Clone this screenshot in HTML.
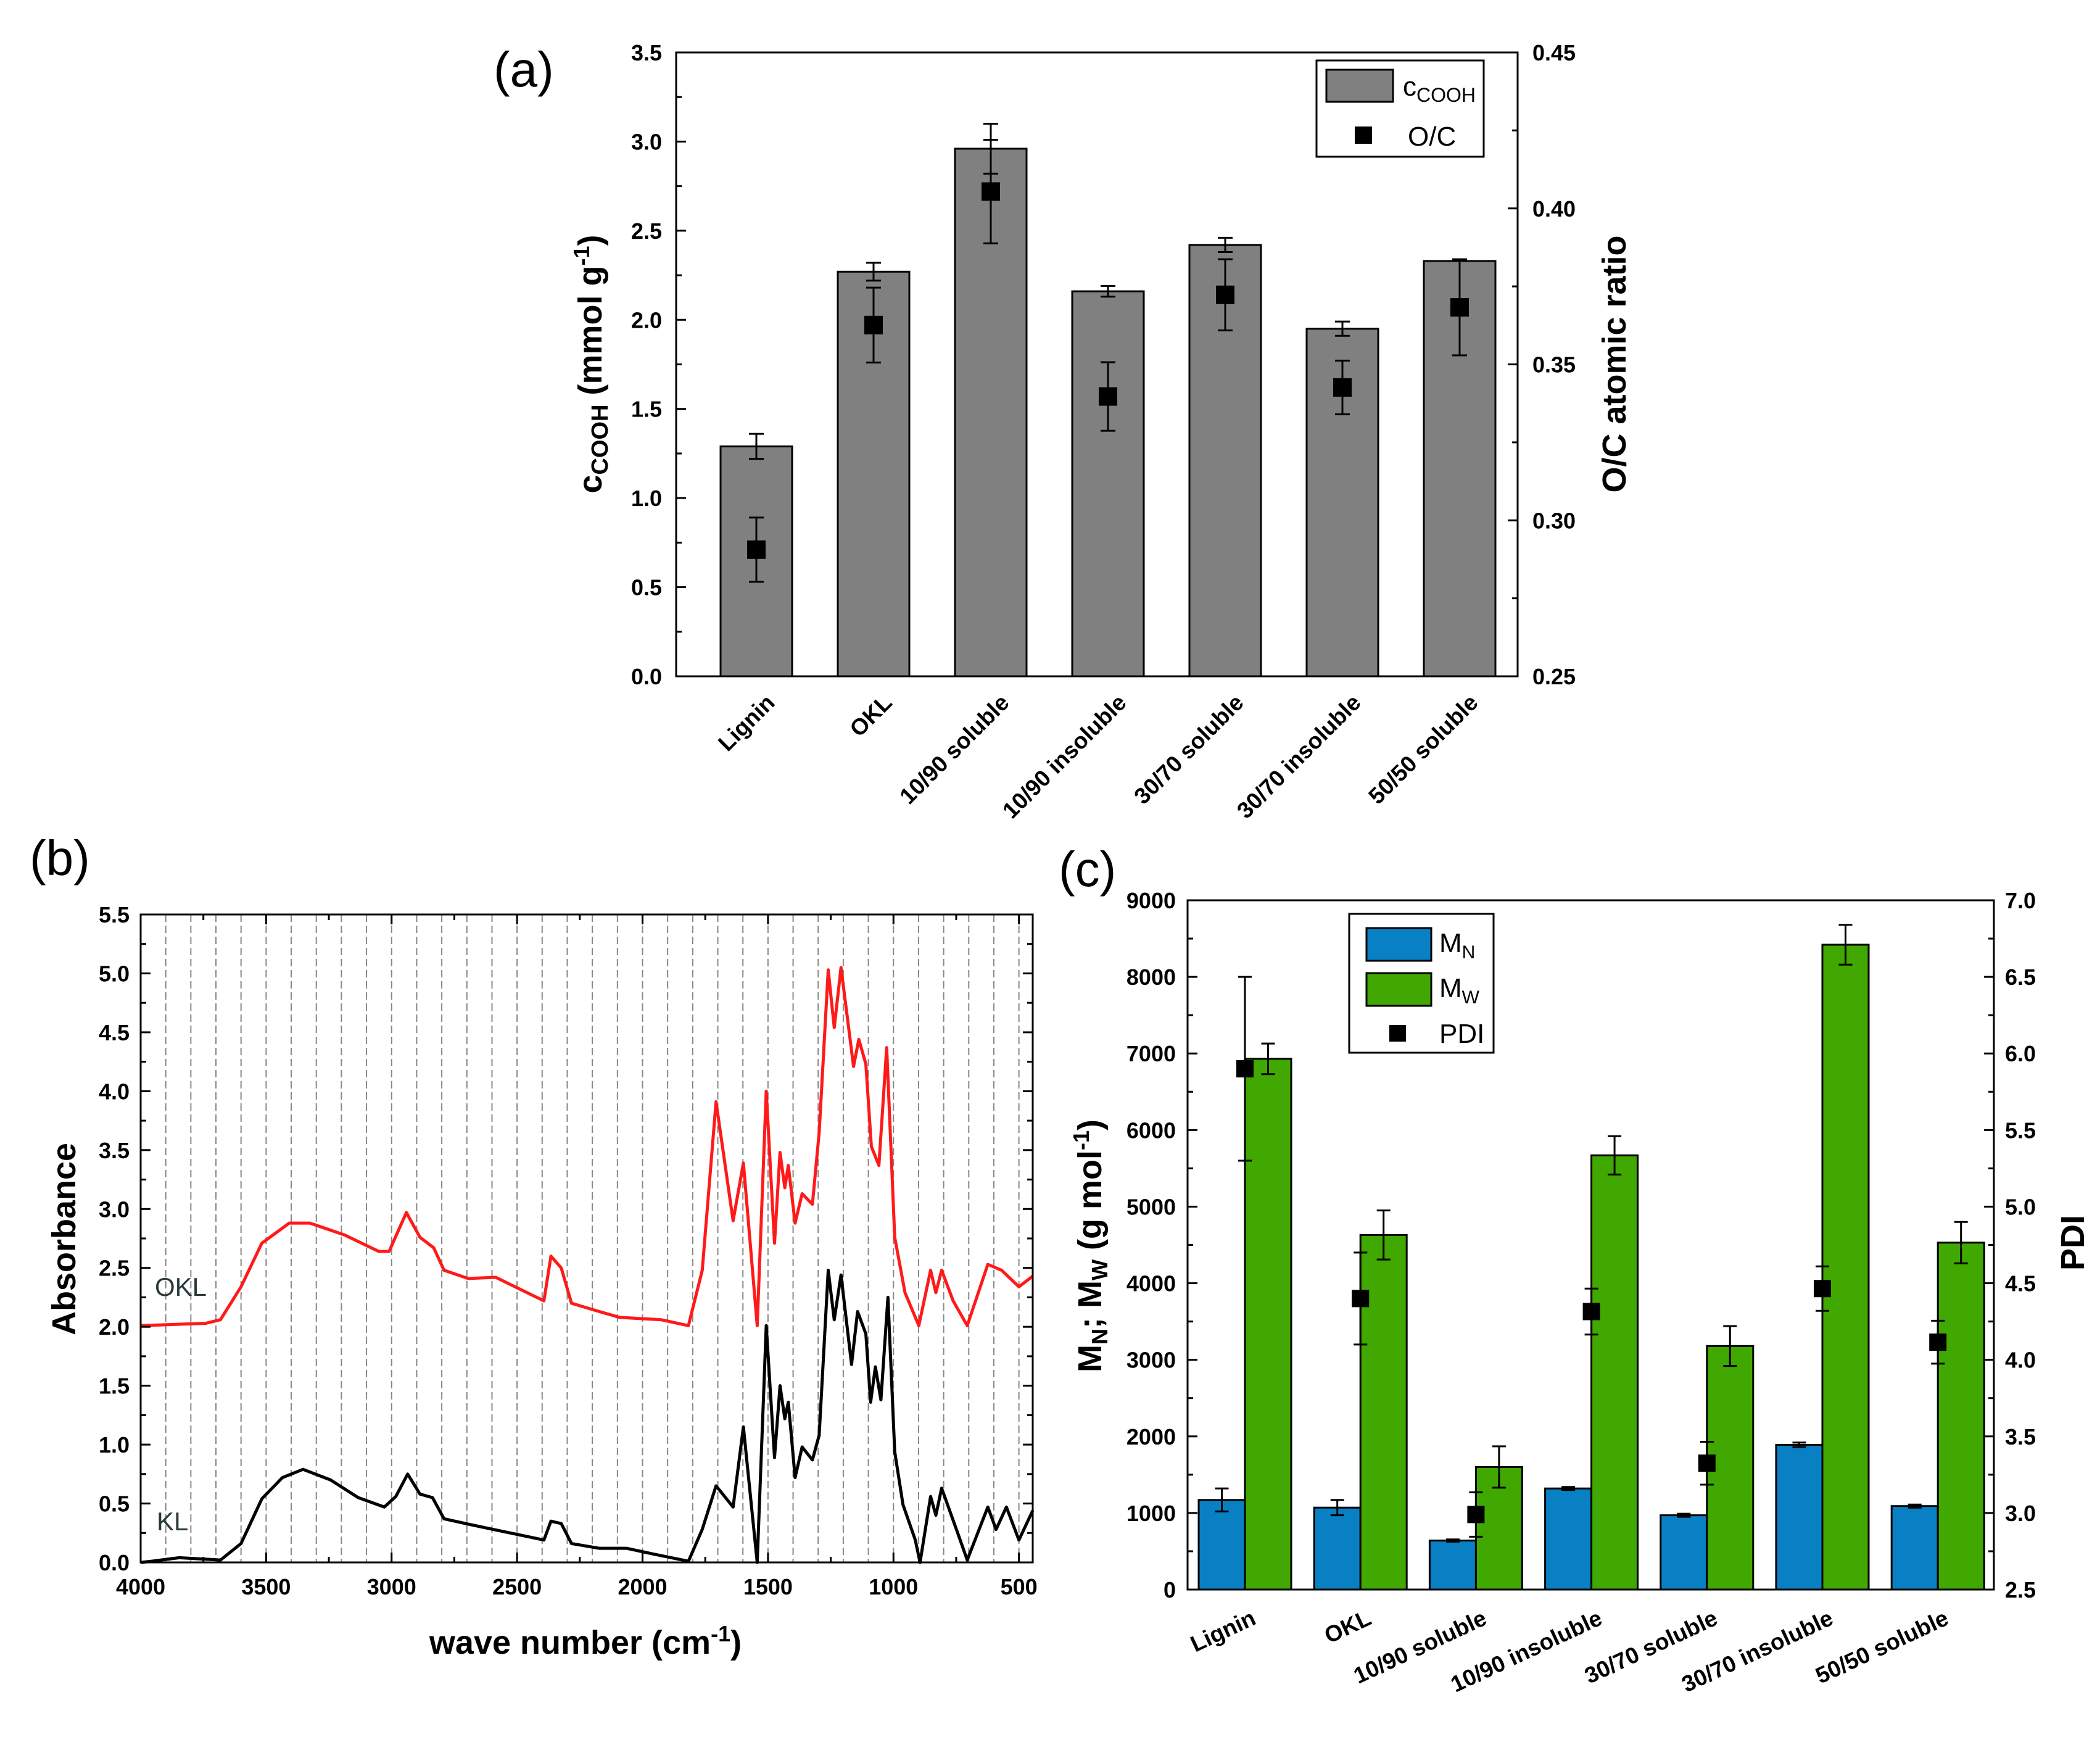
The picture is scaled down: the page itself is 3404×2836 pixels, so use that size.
<!DOCTYPE html>
<html><head><meta charset="utf-8"><style>
html,body{margin:0;padding:0;background:#fff;}
svg{display:block;font-family:"Liberation Sans",Arial,sans-serif;}
.tl{font-weight:bold;font-size:36px;}
.xl{font-weight:bold;font-size:37px;}
.at{font-weight:bold;font-size:54px;}
</style></head><body>
<svg id="fig" width="3404" height="2836" viewBox="0 0 3404 2836" xmlns="http://www.w3.org/2000/svg"></svg>
<script>
// ---------- Panel (a) data ----------
const aCats = ["Lignin","OKL","10/90 soluble","10/90 insoluble","30/70 soluble","30/70 insoluble","50/50 soluble"];
const aCooh = [1.29,2.27,2.96,2.16,2.42,1.95,2.33];
const aCoohErr = [0.07,0.05,0.14,0.03,0.04,0.04,0.0];
const aOC = [0.2906,0.3626,0.4054,0.3397,0.3723,0.3426,0.3683];
const aOCErr = [0.0103,0.012,0.0166,0.011,0.0114,0.0086,0.0154];
const aLeftTicks = ["0.0","0.5","1.0","1.5","2.0","2.5","3.0","3.5"];
const aRightTicks = ["0.25","0.30","0.35","0.40","0.45"];
// ---------- Panel (b) data ----------
const okWn = [4000,3740,3682,3600,3517,3408,3325,3188,3051,3010,2941,2887,2832,2791,2695,2585,2393,2365,2324,2283,2173,2091,1926,1817,1762,1707,1639,1598,1543,1507,1474,1452,1433,1419,1392,1364,1323,1296,1260,1236,1209,1159,1138,1110,1088,1058,1027,995,954,899,852,831,808,762,706,624,569,500,445];
const okAbs = [2.01,2.03,2.06,2.34,2.71,2.88,2.88,2.78,2.64,2.64,2.97,2.76,2.67,2.48,2.41,2.42,2.22,2.60,2.50,2.20,2.13,2.08,2.06,2.01,2.48,3.91,2.90,3.39,2.01,4.00,2.71,3.48,3.18,3.37,2.88,3.13,3.04,3.65,5.03,4.54,5.05,4.21,4.44,4.23,3.53,3.37,4.37,2.76,2.29,2.01,2.48,2.29,2.48,2.22,2.01,2.53,2.48,2.34,2.43];
const klWn = [4000,3956,3846,3682,3600,3517,3435,3353,3243,3133,3029,2983,2936,2887,2837,2791,2640,2393,2365,2324,2283,2173,2064,1954,1817,1762,1707,1639,1598,1543,1507,1474,1452,1433,1419,1392,1364,1323,1296,1260,1236,1209,1167,1143,1110,1091,1072,1050,1022,995,962,913,894,852,831,808,734,706,624,591,550,500,445];
const klAbs = [0.0,0.01,0.04,0.02,0.16,0.54,0.72,0.79,0.70,0.55,0.47,0.56,0.75,0.58,0.55,0.37,0.30,0.19,0.35,0.33,0.16,0.12,0.12,0.07,0.01,0.28,0.65,0.47,1.15,0.0,2.01,0.89,1.50,1.22,1.36,0.72,0.98,0.87,1.08,2.48,2.06,2.44,1.68,2.13,1.94,1.36,1.66,1.38,2.25,0.94,0.49,0.19,0.0,0.56,0.40,0.63,0.19,0.02,0.47,0.28,0.47,0.19,0.44];
const bXTicks = [4000,3500,3000,2500,2000,1500,1000,500];
const bYTicks = ["0.0","0.5","1.0","1.5","2.0","2.5","3.0","3.5","4.0","4.5","5.0","5.5"];
// ---------- Panel (c) data ----------
const cCats = ["Lignin","OKL","10/90 soluble","10/90 insoluble","30/70 soluble","30/70 insoluble","50/50 soluble"];
const cMn = [1170,1070,640,1320,970,1890,1090];
const cMnErr = [150,100,15,20,20,30,20];
const cMw = [6930,4630,1600,5670,3180,8420,4530];
const cMwErr = [200,320,270,250,260,260,270];
const cPdi = [5.9,4.4,2.99,4.315,3.325,4.465,4.115];
const cPdiErr = [0.6,0.3,0.145,0.15,0.14,0.145,0.14];
const cLeftTicks = ["0","1000","2000","3000","4000","5000","6000","7000","8000","9000"];
const cRightTicks = ["2.5","3.0","3.5","4.0","4.5","5.0","5.5","6.0","6.5","7.0"];

const NS="http://www.w3.org/2000/svg";
const svg=document.getElementById('fig');
function mk(tag,attrs,parent){const e=document.createElementNS(NS,tag);for(const k in attrs)e.setAttribute(k,attrs[k]);(parent||svg).appendChild(e);return e;}
function txt(s,attrs,parent){const e=mk('text',attrs,parent);e.textContent=s;return e;}
function errbar(g,x,y1,y2,cap){
  const e=mk('path',{d:`M${x},${y1}V${y2}M${x-cap},${y1}H${x+cap}M${x-cap},${y2}H${x+cap}`,stroke:'#000','stroke-width':3,fill:'none'},g);
  
  
}

// ================= Panel (a) =================
(function(){
  const L=1096,R=2460,T=85,B=1096;
  const y=v=>B-(v/3.5)*(B-T);
  const yr=v=>B-((v-0.25)/0.2)*(B-T);
  const x=i=>1226+190*i;
  const g=mk('g',{});
  
  
  const lab=txt('(a)',{x:800,y:140,'font-size':80},g);
  
  
  for(let i=0;i<aCats.length;i++){
    const b=mk('rect',{x:x(i)-58,y:y(aCooh[i]),width:116,height:B-y(aCooh[i]),fill:'#808080',stroke:'#000','stroke-width':3},g);
    
    
    if(aCoohErr[i]>0) errbar(g,x(i),y(aCooh[i]+aCoohErr[i]),y(aCooh[i]-aCoohErr[i]),12);
  }
  for(let i=0;i<aCats.length;i++){
    errbar(g,x(i),yr(aOC[i]+aOCErr[i]),yr(aOC[i]-aOCErr[i]),12);
    const m=mk('rect',{x:x(i)-15,y:yr(aOC[i])-15,width:30,height:30,fill:'#000'},g);
    
    
  }
  const fr=mk('rect',{x:L,y:T,width:R-L,height:B-T,fill:'none',stroke:'#000','stroke-width':3},g);
  
  
  for(let k=0;k<=14;k++){
    const v=k*0.25, yy=y(v), len=k%2?9:16;
    mk('line',{x1:L,x2:L+len,y1:yy,y2:yy,stroke:'#000','stroke-width':3},g);
  }
  aLeftTicks.forEach((s,k)=>{const t=txt(s,{x:1073,y:y(k*0.5)+13,'text-anchor':'end',class:'tl'},g);
    });
  for(let k=0;k<=8;k++){
    const yy=yr(0.25+k*0.025), len=k%2?9:16;
    mk('line',{x1:R-len,x2:R,y1:yy,y2:yy,stroke:'#000','stroke-width':3},g);
  }
  aRightTicks.forEach((s,k)=>{const t=txt(s,{x:2484,y:yr(0.25+k*0.05)+13,class:'tl'},g);
    });
  aCats.forEach((s,i)=>{const t=txt(s,{x:0,y:0,'text-anchor':'end',class:'xl',transform:`translate(${x(i)+32},${B+45}) rotate(-45)`},g);
    });
  const yl=mk('text',{class:'at','text-anchor':'middle',transform:`translate(975,590) rotate(-90)`},g);
  yl.innerHTML='c<tspan font-size="38" dy="10">COOH</tspan><tspan dy="-10"> (mmol g</tspan><tspan font-size="36" dy="-20">-1</tspan><tspan dy="20">)</tspan>';
  
  const yr2=txt('O/C atomic ratio',{class:'at','text-anchor':'middle',transform:`translate(2635,590) rotate(-90)`},g);
  
  const lg=mk('g',{},g);
  
  mk('rect',{x:2134,y:98,width:271,height:156,fill:'#fff',stroke:'#000','stroke-width':3},lg);
  mk('rect',{x:2150,y:113,width:108,height:52,fill:'#808080',stroke:'#000','stroke-width':3},lg);
  const l1=mk('text',{x:2274,y:155,'font-size':44},lg);
  l1.innerHTML='c<tspan font-size="32" dy="10">COOH</tspan>';
  
  mk('rect',{x:2196,y:205,width:28,height:28,fill:'#000'},lg);
  const l2=txt('O/C',{x:2282,y:236,'font-size':44},lg);
  
})();

// ================= Panel (b) =================
(function(){
  const L=228,R=1674,T=1482,B=2532;
  const x=w=>L+(4000-w)/(4000-445)*(R-L);
  const y=v=>B-v/5.5*(B-T);
  const g=mk('g',{});
  
  const lab=txt('(b)',{x:48,y:1418,'font-size':80},g);
  
  for(let w=3900;w>=500;w-=100){
    const gl=mk('line',{x1:x(w),x2:x(w),y1:T,y2:B,stroke:'#888','stroke-width':2,'stroke-dasharray':'12,6'},g);
    
  }
  const p1=mk('polyline',{points:okWn.map((w,i)=>x(w)+','+y(okAbs[i])).join(' '),fill:'none',stroke:'#ff1a1a','stroke-width':5,'stroke-linejoin':'round'},g);
  
  const p2=mk('polyline',{points:klWn.map((w,i)=>x(w)+','+y(klAbs[i])).join(' '),fill:'none',stroke:'#000','stroke-width':5,'stroke-linejoin':'round'},g);
  
  const fr=mk('rect',{x:L,y:T,width:R-L,height:B-T,fill:'none',stroke:'#000','stroke-width':3},g);
  
  for(let w=4000;w>=450;w-=250){
    const len=(w%500)?9:16, xx=x(w);
    mk('line',{x1:xx,x2:xx,y1:B,y2:B-len,stroke:'#000','stroke-width':3},g);
    mk('line',{x1:xx,x2:xx,y1:T,y2:T+len,stroke:'#000','stroke-width':3},g);
  }
  for(let k=0;k<=22;k++){
    const yy=y(k*0.25), len=k%2?9:16;
    mk('line',{x1:L,x2:L+len,y1:yy,y2:yy,stroke:'#000','stroke-width':3},g);
    mk('line',{x1:R-len,x2:R,y1:yy,y2:yy,stroke:'#000','stroke-width':3},g);
  }
  bXTicks.forEach(w=>{const t=txt(String(w),{x:x(w),y:2584,'text-anchor':'middle',class:'tl'},g);
    });
  bYTicks.forEach((s,k)=>{const t=txt(s,{x:210,y:y(k*0.5)+13,'text-anchor':'end',class:'tl'},g);
    });
  const yl=txt('Absorbance',{class:'at','text-anchor':'middle',transform:'translate(122,2008) rotate(-90)'},g);
  
  const xl=mk('text',{class:'at','text-anchor':'middle',x:949,y:2680},g);
  xl.innerHTML='wave number (cm<tspan font-size="36" dy="-20">-1</tspan><tspan dy="20">)</tspan>';
  
  const t1=txt('OKL',{x:251,y:2100,'font-size':42,fill:'#2a3a3a'},g);
  
  const t2=txt('KL',{x:254,y:2480,'font-size':42,fill:'#2a3a3a'},g);
  
})();

// ================= Panel (c) =================
(function(){
  const L=1925,R=3232,T=1459,B=2576;
  const y=v=>B-v/9000*(B-T);
  const yr=v=>B-(v-2.5)/4.5*(B-T);
  const x=i=>2018+187.2*i;
  const g=mk('g',{});
  
  const lab=txt('(c)',{x:1716,y:1436,'font-size':80},g);
  
  for(let i=0;i<cCats.length;i++){
    const b1=mk('rect',{x:x(i)-75,y:y(cMn[i]),width:75,height:B-y(cMn[i]),fill:'#0a80c4',stroke:'#000','stroke-width':3},g);
    
    const b2=mk('rect',{x:x(i),y:y(cMw[i]),width:75,height:B-y(cMw[i]),fill:'#40a800',stroke:'#000','stroke-width':3},g);
    
    errbar(g,x(i)-37.5,y(cMn[i]+cMnErr[i]),y(cMn[i]-cMnErr[i]),11);
    errbar(g,x(i)+37.5,y(cMw[i]+cMwErr[i]),y(cMw[i]-cMwErr[i]),11);
  }
  for(let i=0;i<cCats.length;i++){
    errbar(g,x(i),yr(cPdi[i]+cPdiErr[i]),yr(cPdi[i]-cPdiErr[i]),11);
    const m=mk('rect',{x:x(i)-14,y:yr(cPdi[i])-14,width:28,height:28,fill:'#000'},g);
    
  }
  const fr=mk('rect',{x:L,y:T,width:R-L,height:B-T,fill:'none',stroke:'#000','stroke-width':3},g);
  
  for(let k=0;k<=18;k++){
    const yy=y(k*500), len=k%2?9:16;
    mk('line',{x1:L,x2:L+len,y1:yy,y2:yy,stroke:'#000','stroke-width':3},g);
    mk('line',{x1:R-len,x2:R,y1:yy,y2:yy,stroke:'#000','stroke-width':3},g);
  }
  cLeftTicks.forEach((s,k)=>{const t=txt(s,{x:1906,y:y(k*1000)+13,'text-anchor':'end',class:'tl'},g);
    });
  cRightTicks.forEach((s,k)=>{const t=txt(s,{x:3250,y:yr(2.5+k*0.5)+13,class:'tl'},g);
    });
  cCats.forEach((s,i)=>{const t=txt(s,{x:0,y:0,'text-anchor':'end',class:'xl',transform:`translate(${x(i)+20},${B+55}) rotate(-25)`},g);
    });
  const yl=mk('text',{class:'at','text-anchor':'middle',transform:'translate(1785,2019) rotate(-90)'},g);
  yl.innerHTML='M<tspan font-size="36" dy="10">N</tspan><tspan dy="-10">; M</tspan><tspan font-size="36" dy="10">W</tspan><tspan dy="-10"> (g mol</tspan><tspan font-size="36" dy="-20">-1</tspan><tspan dy="20">)</tspan>';
  
  const yr2=txt('PDI',{class:'at','text-anchor':'middle',transform:'translate(3378,2014) rotate(-90)'},g);
  
  const lg=mk('g',{},g);
  
  mk('rect',{x:2187,y:1481,width:234,height:225,fill:'#fff',stroke:'#000','stroke-width':3},lg);
  mk('rect',{x:2215,y:1504,width:105,height:53,fill:'#0a80c4',stroke:'#000','stroke-width':3},lg);
  mk('rect',{x:2215,y:1577,width:105,height:53,fill:'#40a800',stroke:'#000','stroke-width':3},lg);
  mk('rect',{x:2252,y:1661,width:27,height:27,fill:'#000'},lg);
  const e1=mk('text',{x:2333,y:1543,'font-size':44},lg);
  e1.innerHTML='M<tspan font-size="30" dy="10">N</tspan>';
  
  const e2=mk('text',{x:2333,y:1616,'font-size':44},lg);
  e2.innerHTML='M<tspan font-size="30" dy="10">W</tspan>';
  
  const e3=txt('PDI',{x:2333,y:1690,'font-size':44},lg);
  
})();
</script>
</body></html>
